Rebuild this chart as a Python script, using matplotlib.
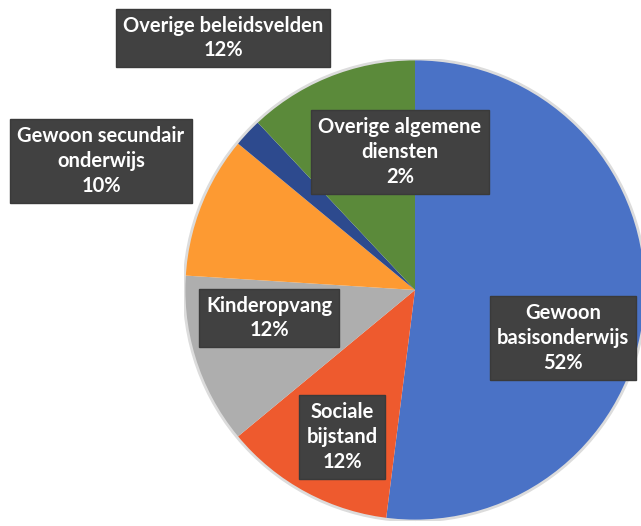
import matplotlib.pyplot as plt
from matplotlib.patches import Circle

# slices, clockwise from 12 o'clock
labels = ["Gewoon\nbasisonderwijs", "Sociale\nbijstand", "Kinderopvang",
          "Gewoon secundair\nonderwijs", "Overige algemene\ndiensten",
          "Overige beleidsvelden"]
shares = [52, 12, 12, 10, 2, 12]
colors = ["#4a72c6", "#ee5a2e", "#aeaeae", "#fd9a32", "#2d4a8e", "#5b8a3a"]

# label box centres in pixels (x from left, y from top)
label_px = [(563, 338), (342, 437), (269, 318), (101, 161), (400, 152), (223, 38)]

W, H = 641, 526
fig = plt.figure(figsize=(W / 100, H / 100), dpi=100)

# pie: centre (415, 290) px, radius 231 px
cx, cy, r = 415, 290, 231
ax = fig.add_axes([(cx - r) / W, (H - cy - r) / H, 2 * r / W, 2 * r / H])
ax.pie(shares, colors=colors, startangle=90, counterclock=False,
       wedgeprops=dict(linewidth=0))
ax.add_patch(Circle((0, 0), 1.0, fill=False, ec="#dcdcdc", lw=2))
ax.set_xlim(-1, 1)
ax.set_ylim(-1, 1)
ax.set_aspect("equal")
ax.axis("off")

for lab, val, (px, py) in zip(labels, shares, label_px):
    fig.text(px / W, 1 - py / H, f"{lab}\n{val}%", ha="center", va="center",
             family="Lato", weight="bold", fontsize=14.5, color="white",
             linespacing=1.3,
             bbox=dict(boxstyle="square,pad=0.35", fc="#414141", ec="#3a3a3a", lw=1))

fig.savefig("out.png", dpi=100)
